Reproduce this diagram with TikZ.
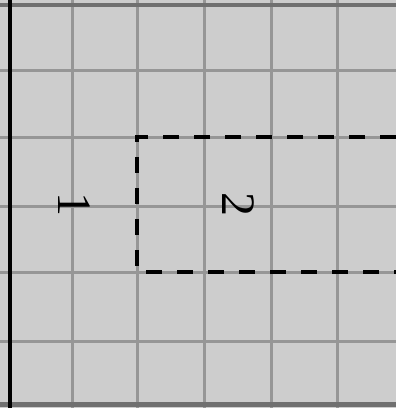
\documentclass[tikz,border=0pt]{standalone}
\usepackage{fontspec}
\setmainfont{Liberation Serif}
\definecolor{bgcol}{RGB}{205,205,205}
\definecolor{gridcol}{RGB}{150,150,150}
\definecolor{edgecol}{RGB}{112,112,112}
\begin{document}
\begin{tikzpicture}[x=1pt,y=-1pt,
  gridline/.style={draw=gridcol, line width=3pt},
  edgeline/.style={draw=edgecol, line width=4.5pt},
  leftedge/.style={draw=black, line width=4pt},
  dashbox/.style={draw=black, line width=4pt, dash pattern=on 16pt off 15pt},
  lbl/.style={font=\fontsize{48}{48}\selectfont, text=black, inner sep=0pt, rotate=-90}]
\fill[bgcol] (0,0) rectangle (396,408);
\useasboundingbox (0,0) rectangle (396,408);
% grid
\foreach \gx in {72,137,204,271,337} {\draw[gridline] (\gx,0) -- (\gx,408);}
\foreach \gy in {70,137,206,272,341} {\draw[gridline] (0,\gy) -- (396,\gy);}
% borders
\draw[edgeline] (0,5) -- (396,5);
\draw[edgeline] (0,404.5) -- (396,404.5);
\draw[leftedge] (9.5,0) -- (9.5,408);
% dashed region
\coordinate (tr) at (396,137);
\coordinate (tl) at (137,137);
\coordinate (bl) at (137,272);
\coordinate (br) at (396,272);
\draw[dashbox] (tr) -- (tl) -- (bl) -- (br);
% labels
\node[lbl] (one) at (74,204) {1};
\node[lbl] (two) at (238,204.5) {2};
\end{tikzpicture}
\end{document}
